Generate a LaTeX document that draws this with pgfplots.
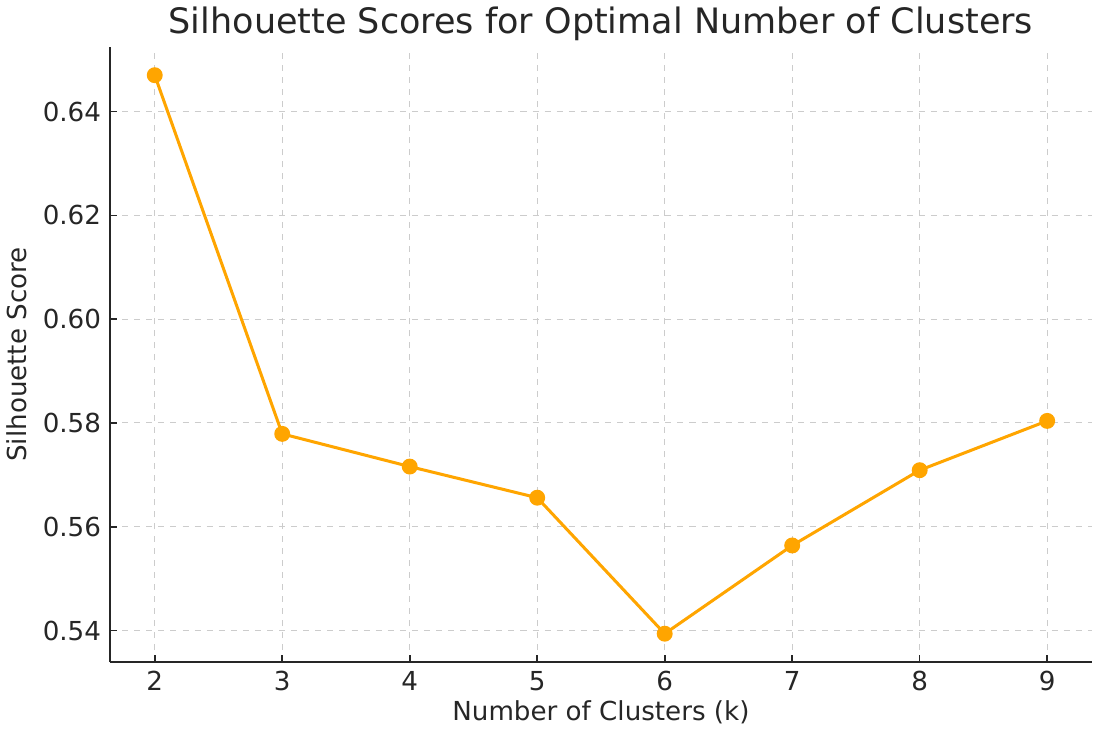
\documentclass[border=0pt]{standalone}
\usepackage{fontspec}
\setmainfont{DejaVu Sans}
\usepackage{pgfplots}
\pgfplotsset{compat=1.18}
\definecolor{sorange}{RGB}{255,165,0}
\definecolor{stext}{RGB}{38,38,38}
\definecolor{sgrid}{RGB}{204,204,204}

\begin{document}
\begin{tikzpicture}
\begin{axis}[
  width=488pt, height=306pt,
  scale only axis,
  xmin=1.65, xmax=9.35,
  ymin=0.5339, ymax=0.6525,
  xtick={2,3,4,5,6,7,8,9},
  ytick={0.54,0.56,0.58,0.60,0.62,0.64},
  yticklabel style={xshift=-1pt, /pgf/number format/.cd,fixed,fixed zerofill,precision=2},
  /pgf/number format/assume math mode=true,
  tick label style={font=\fontsize{13}{15}\selectfont, text=stext},
  xticklabel style={yshift=-1pt},
  label style={font=\fontsize{13}{15}\selectfont, text=stext},
  title style={font=\fontsize{17.4}{21}\selectfont, color=stext, yshift=-6.5pt},
  title={Silhouette Scores for Optimal Number of Clusters},
  xlabel={Number of Clusters (k)},
  ylabel={Silhouette Score},
  xlabel style={yshift=2pt},
  ylabel style={yshift=1pt},
  axis x line*=bottom, axis y line*=left,
  axis line style={line width=1.2pt, color=stext, -},
  tick style={line width=0.8pt, color=stext},
  tick align=inside,
  major tick length=3.5pt,
  xmajorgrids, ymajorgrids,
  grid style={dashed, sgrid, line width=0.5pt},
]
\addplot[color=sorange, line width=1.5pt, mark=*, mark size=3.2pt, mark options={fill=sorange, draw=sorange}]
coordinates {(2,0.6470) (3,0.5779) (4,0.5716) (5,0.5656) (6,0.5394) (7,0.5564) (8,0.5709) (9,0.5804)};
\end{axis}
\end{tikzpicture}
\end{document}
